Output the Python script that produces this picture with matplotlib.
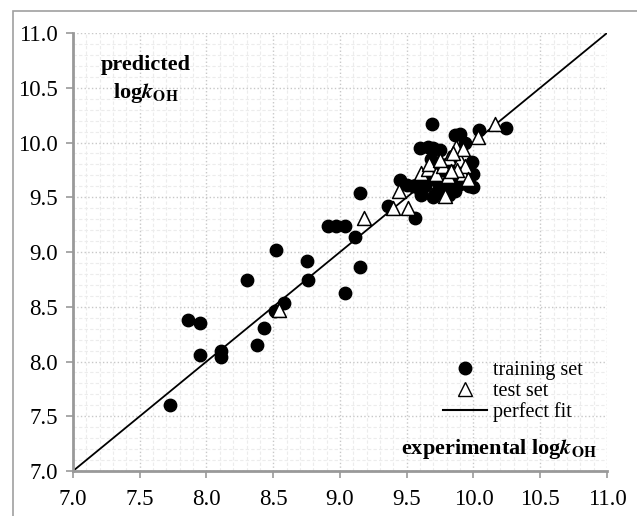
import numpy as np
import matplotlib
matplotlib.use("Agg")
import matplotlib.pyplot as plt
from matplotlib.patches import Rectangle
from matplotlib.lines import Line2D

plt.rcParams["font.family"] = "Liberation Serif"
plt.rcParams["mathtext.fontset"] = "stix"

# training set (experimental, predicted)
train_x = [7.73, 7.86, 7.95, 7.95, 8.11, 8.11, 8.30, 8.38, 8.43, 8.52, 8.51, 8.58,
           8.75, 8.76, 8.91, 8.97, 9.04, 9.04, 9.11, 9.15, 9.15,
           9.36, 9.45, 9.50, 9.55, 9.57, 9.60, 9.61, 9.56,
           9.69, 9.60, 9.66, 9.70, 9.75, 9.86, 9.90, 10.04, 10.24, 9.94,
           9.71, 9.74, 9.72, 9.70, 9.82, 9.78, 9.86, 9.90, 9.99, 10.00, 10.00,
           9.97, 9.65, 9.68, 9.80, 9.85, 9.92, 9.64, 9.76, 9.88, 9.82]
train_y = [7.60, 8.38, 8.35, 8.06, 8.10, 8.04, 8.74, 8.15, 8.31, 9.02, 8.46, 8.53,
           8.92, 8.74, 9.24, 9.24, 9.24, 8.63, 9.14, 9.54, 8.86,
           9.42, 9.66, 9.61, 9.60, 9.61, 9.57, 9.52, 9.31,
           10.17, 9.95, 9.96, 9.95, 9.93, 10.07, 10.08, 10.11, 10.13, 10.00,
           9.69, 9.61, 9.54, 9.50, 9.52, 9.58, 9.56, 9.62, 9.82, 9.71, 9.59,
           9.60, 9.65, 9.85, 9.80, 9.88, 9.78, 9.60, 9.75, 9.70, 9.66]

# test set (experimental, predicted)
test_x = [8.54, 9.18, 9.40, 9.51, 9.44, 9.61, 9.66, 9.67, 9.72, 9.77, 9.81, 9.82,
          9.87, 9.90, 9.92, 9.92, 9.94, 9.96, 10.03, 10.16, 9.79, 9.85, 9.88, 9.75, 9.83]
test_y = [8.47, 9.31, 9.40, 9.40, 9.56, 9.72, 9.76, 9.80, 9.71, 9.79, 9.69, 9.86,
          9.96, 9.84, 9.94, 9.71, 9.79, 9.67, 10.05, 10.17, 9.51, 9.90, 9.75, 9.84, 9.74]

fit = [7.0, 11.0]
ticks = np.arange(7.0, 11.01, 0.5)
tick_labels = [f"{t:.1f}" for t in ticks]

fig = plt.figure(figsize=(6.37, 5.16), dpi=100)
ax = fig.add_axes([0.1146, 0.0872, 0.8383, 0.8488])

# outer frame
fig.patches.append(Rectangle((0.0204, -0.1), 1.2, 1.0787, transform=fig.transFigure,
                             fill=False, edgecolor="#a0a0a0", linewidth=1.2))

ax.set_xlim(7, 11)
ax.set_ylim(7, 11)
ax.set_xticks(ticks, tick_labels)
ax.set_yticks(ticks, tick_labels)
ax.set_xticks(np.arange(7.0, 11.01, 0.1), minor=True)
ax.set_yticks(np.arange(7.0, 11.01, 0.1), minor=True)
ax.tick_params(which="major", direction="out", length=5, width=1.2, color="#999999",
               labelsize=16.5, pad=6)
ax.tick_params(axis="x", pad=8)
ax.tick_params(which="minor", length=0)
ax.grid(which="major", linestyle=":", color="#c8c8c8", linewidth=1.0)
ax.grid(which="minor", linestyle=(0, (3, 2)), color="#ececec", linewidth=0.8)
ax.set_axisbelow(True)
for s in ["top", "right"]:
    ax.spines[s].set_visible(False)
for s in ["left", "bottom"]:
    ax.spines[s].set_color("#999999")
    ax.spines[s].set_linewidth(2)

ax.plot(fit, fit, color="black", linewidth=1.3, zorder=2)
ax.scatter(train_x, train_y, s=80, color="black", zorder=3, clip_on=False)
ax.scatter(test_x, test_y, s=100, marker="^", facecolor="white", edgecolor="black",
           linewidth=1.1, zorder=4)

ax.text(0.137, 0.928, "predicted", transform=ax.transAxes, ha="center", va="center",
        fontsize=16, fontweight="bold")
ax.text(0.137, 0.864, r"log$\mathbfit{k}_{\mathbf{OH}}$", transform=ax.transAxes,
        ha="center", va="center", fontsize=16, fontweight="bold")
ax.text(0.981, 0.05, r"experimental log$\mathbfit{k}_{\mathbf{OH}}$", transform=ax.transAxes,
        ha="right", va="center", fontsize=16, fontweight="bold")

handles = [
    Line2D([], [], marker="o", linestyle="none", color="black", markersize=9),
    Line2D([], [], marker="^", linestyle="none", markerfacecolor="white",
           markeredgecolor="black", markersize=9.5),
    Line2D([], [], color="black", linewidth=1.5),
]
ax.legend(handles, ["training set", "test set", "perfect fit"], loc="lower left",
          bbox_to_anchor=(0.685, 0.103), frameon=False, fontsize=14.5, handlelength=2.2,
          labelspacing=0.07, handletextpad=0.3, borderpad=0.2, borderaxespad=0)

fig.savefig("out.png", dpi=100)
